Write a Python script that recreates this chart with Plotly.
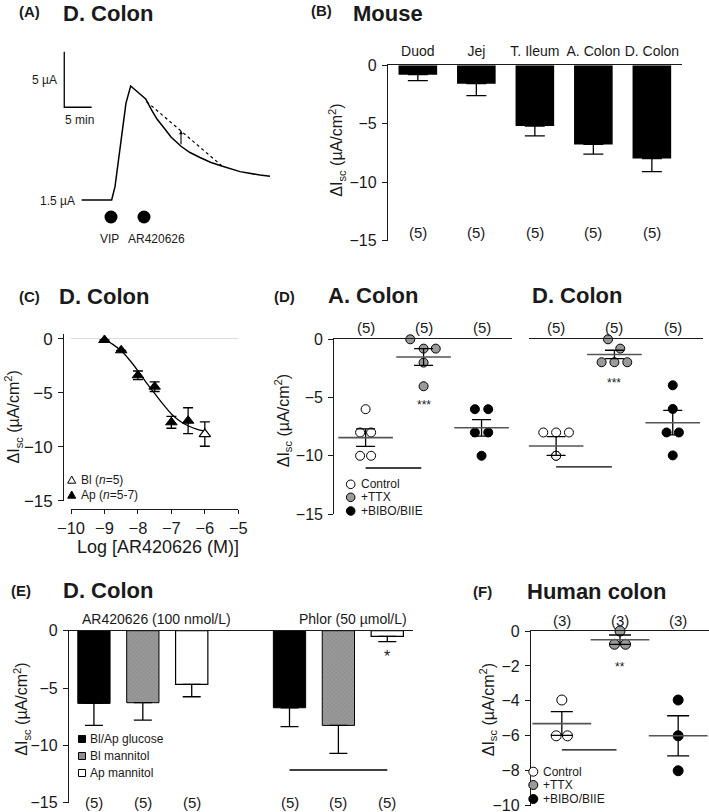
import plotly.graph_objects as go

W, H = 709, 812
FONT = "Liberation Sans, Arial, sans-serif"
LC = "#1a1a1a"
GRAY = "#9a9a9a"
MEANC = "#555555"


def px(x):
    return x / W


def py(y):
    return 1 - y / H


# ---------------- DATA ----------------
# (A) schematic Isc trace, D. colon (time in min, current in µA)
a_time = [0, 5.47, 6.08, 6.68, 7.30, 8.08, 8.94, 11.68, 12.77, 13.74, 14.89, 16.30, 18.12, 19.76, 21.59,
          23.59, 25.55, 28.89, 32.54, 34.36]
a_current = [1.5, 1.5, 2.70, 5.10, 7.53, 10.22, 11.75, 10.58, 9.59, 8.78, 8.06, 7.16, 6.33, 5.77, 5.32,
             4.87, 4.55, 4.05, 3.74, 3.63]
a_extrap_time = [11.86, 25.55]
a_extrap_current = [10.34, 4.58]
a_delta_time = 18.12
a_delta_current = [6.38, 7.75]
a_event_time = [5.35, 11.37]
a_event_current = [-0.03, -0.03]
a_event_labels = ["VIP", "AR420626"]
a_scale_origin = [-3.18, 9.84]
a_scale_min = 5
a_scale_uA = 5

# (B) Mouse regions
b_regions = ["Duod", "Jej", "T. Ileum", "A. Colon", "D. Colon"]
b_mean = [-0.80, -1.57, -5.20, -6.77, -7.97]
b_sem = [0.51, 1.03, 0.83, 0.83, 1.12]
b_n = [5, 5, 5, 5, 5]

# (C) concentration-response, D. colon
c_ap_log = [-9, -8.5, -8, -7.5, -7, -6.5]
c_ap_mean = [-0.09, -1.05, -3.37, -4.42, -7.73, -7.58]
c_ap_sem = [0, 0, 0.40, 0.45, 0.55, 1.20]
c_bl_log = [-6]
c_bl_mean = [-8.82]
c_bl_sem = [1.13]
c_fit_log = [-9, -8.75, -8.5, -8.25, -8, -7.75, -7.5, -7.25, -7, -6.75, -6.5, -6.25, -6]
c_fit_val = [-0.05, -0.5, -1.1, -1.95, -2.95, -4.05, -5.05, -6.05, -6.95, -7.6, -8.05, -8.35, -8.55]

# (D) TTX / BIBO-BIIE, mouse colon
d_groups = ["Control", "+TTX", "+BIBO/BIIE"]
d_n = [5, 5, 5]
ac_ctrl_x = [1, 0.905, 1.095, 0.905, 1.095]
ac_ctrl_y = [-6, -8, -8, -10, -10]
ac_ttx_x = [1.77, 2, 2.21, 2, 2]
ac_ttx_y = [0, -0.8, -0.8, -2.0, -4.03]
ac_bibo_x = [2.885, 3.115, 2.885, 3.115, 3]
ac_bibo_y = [-6, -6, -8, -8, -10]
ac_mean = [-8.44, -1.52, -7.60]
ac_sem = [0.75, 0.72, 0.71]
ac_sig = [-11.05, -11.05]

dc_ctrl_x = [0.78, 1, 1.22, 1, 1]
dc_ctrl_y = [-8, -8, -8, -10, -10]
dc_ttx_x = [1.89, 2.1, 1.78, 2, 2.22]
dc_ttx_y = [0, -0.8, -1.97, -1.97, -1.97]
dc_bibo_x = [3, 3, 2.894, 3.106, 3]
dc_bibo_y = [-3.95, -5.98, -8, -8, -9.97]
dc_mean = [-9.16, -1.30, -7.16]
dc_sem = [0.80, 0.36, 1.05]
dc_sig = [-10.96, -10.96]

# (E) glucose / mannitol, D. colon
e_treatments = ["AR420626 (100 nmol/L)", "Phlor (50 µmol/L)"]
e_series = ["Bl/Ap glucose", "Bl mannitol", "Ap mannitol"]
e_glucose = [-6.34, -6.72]
e_glucose_sem = [1.92, 1.65]
e_bl_mannitol = [-6.28, -8.26]
e_bl_mannitol_sem = [1.51, 2.44]
e_ap_mannitol = [-4.68, -0.49]
e_ap_mannitol_sem = [1.08, 0.47]
e_n = [5, 5, 5, 5, 5, 5]
e_sig = [-12.15, -12.15]

# (F) Human colon
f_ctrl_x = [1, 0.903, 1.097]
f_ctrl_y = [-3.95, -6.0, -6.0]
f_ttx_x = [2, 1.905, 2.095]
f_ttx_y = [0.0, -0.76, -0.76]
f_bibo_x = [3, 3, 3]
f_bibo_y = [-3.95, -6.0, -8.0]
f_mean = [-5.30, -0.50, -6.0]
f_sem = [0.68, 0.27, 1.15]
f_n = [3, 3, 3]
f_sig = [-6.81, -6.81]

# slot positions of E bars (layout)
e_slots = [[0, 4], [1, 5], [2, 6]]

fig = go.Figure()

# ---------------- (A) ----------------
fig.add_trace(go.Scatter(x=a_time, y=a_current, mode="lines", line=dict(color="black", width=1.5),
                         xaxis="x", yaxis="y", hoverinfo="skip"))
fig.add_trace(go.Scatter(x=a_extrap_time, y=a_extrap_current, mode="lines", line=dict(color="black", width=1.2, dash="3px,3px"),
                         xaxis="x", yaxis="y"))
sx, sy = a_scale_origin
fig.add_trace(go.Scatter(x=[sx, sx, sx + a_scale_min], y=[sy + a_scale_uA, sy, sy], mode="lines",
                         line=dict(color="black", width=1.3), xaxis="x", yaxis="y"))
fig.add_trace(go.Scatter(x=a_event_time, y=a_event_current, mode="markers", marker=dict(color="black", size=13),
                         xaxis="x", yaxis="y", cliponaxis=False))

# ---------------- (B) ----------------
fig.add_trace(go.Bar(x=list(range(len(b_regions))), y=b_mean, width=0.66, marker=dict(color="black", line=dict(width=0)),
                     error_y=dict(type="data", symmetric=False, array=[0] * len(b_sem), arrayminus=b_sem,
                                  width=10, thickness=1.3, color="black"),
                     xaxis="x2", yaxis="y2"))

# ---------------- (C) ----------------
fig.add_trace(go.Scatter(x=c_fit_log, y=c_fit_val, mode="lines", line=dict(color="black", width=1.3, shape="spline"),
                         xaxis="x3", yaxis="y3"))
fig.add_trace(go.Scatter(x=c_ap_log, y=c_ap_mean, mode="markers",
                         marker=dict(symbol="triangle-up", size=10, color="black", line=dict(color="black", width=1)),
                         error_y=dict(type="data", array=c_ap_sem, width=5, thickness=1.3, color="black"),
                         xaxis="x3", yaxis="y3", cliponaxis=False))
fig.add_trace(go.Scatter(x=c_bl_log, y=c_bl_mean, mode="markers",
                         marker=dict(symbol="triangle-up", size=10, color="white", line=dict(color="black", width=1.2)),
                         error_y=dict(type="data", array=c_bl_sem, width=5, thickness=1.3, color="black"),
                         xaxis="x3", yaxis="y3", cliponaxis=False))


# ---------------- (D) ----------------
def scatter_group(xs, ys, fill, size, xa, ya):
    fig.add_trace(go.Scatter(x=xs, y=ys, mode="markers",
                             marker=dict(symbol="circle", size=size, color=fill, line=dict(color="black", width=1)),
                             xaxis=xa, yaxis=ya, cliponaxis=False))


def mean_sem(means, sems, half, cap, xa, ya):
    fig.add_trace(go.Scatter(x=[1, 2, 3], y=means, mode="markers",
                             marker=dict(symbol="line-ew", size=half * 2, line=dict(color=MEANC, width=1.6)),
                             error_y=dict(type="data", array=sems, width=cap, thickness=1.3, color="black"),
                             xaxis=xa, yaxis=ya, cliponaxis=False))


def sig_line(x0, x1, yv, xa, ya):
    fig.add_trace(go.Scatter(x=[x0, x1], y=yv, mode="lines", line=dict(color="black", width=1.3),
                             xaxis=xa, yaxis=ya))


scatter_group(ac_ctrl_x, ac_ctrl_y, "white", 9, "x4", "y4")
scatter_group(ac_ttx_x, ac_ttx_y, GRAY, 9, "x4", "y4")
scatter_group(ac_bibo_x, ac_bibo_y, "black", 9, "x4", "y4")
mean_sem(ac_mean, ac_sem, 19.5, 9.5, "x4", "y4")
sig_line(1.0, 1.96, ac_sig, "x4", "y4")

scatter_group(dc_ctrl_x, dc_ctrl_y, "white", 9, "x5", "y5")
scatter_group(dc_ttx_x, dc_ttx_y, GRAY, 9, "x5", "y5")
scatter_group(dc_bibo_x, dc_bibo_y, "black", 9, "x5", "y5")
mean_sem(dc_mean, dc_sem, 19.5, 9.5, "x5", "y5")
sig_line(1.0, 1.955, dc_sig, "x5", "y5")

# ---------------- (E) ----------------
e_vals = [e_glucose, e_bl_mannitol, e_ap_mannitol]
e_sems = [e_glucose_sem, e_bl_mannitol_sem, e_ap_mannitol_sem]
e_markers = [
    dict(color="black", line=dict(color="black", width=1)),
    dict(color="#8f8f8f", line=dict(color="black", width=1),
         pattern=dict(shape="x", size=3, solidity=0.25, fgcolor="#6f6f6f", bgcolor="#999999")),
    dict(color="white", line=dict(color="black", width=1.2)),
]
for vals, sems, slots, mk in zip(e_vals, e_sems, e_slots, e_markers):
    fig.add_trace(go.Bar(x=slots, y=vals, width=0.66, marker=mk,
                         error_y=dict(type="data", symmetric=False, array=[0, 0], arrayminus=sems,
                                      width=9, thickness=1.3, color="black"),
                         xaxis="x6", yaxis="y6"))
sig_line(4, 6, e_sig, "x6", "y6")

# ---------------- (F) ----------------
scatter_group(f_ctrl_x, f_ctrl_y, "white", 10, "x7", "y7")
scatter_group(f_ttx_x, f_ttx_y, GRAY, 10, "x7", "y7")
scatter_group(f_bibo_x, f_bibo_y, "black", 10, "x7", "y7")
mean_sem(f_mean, f_sem, 21, 11, "x7", "y7")
sig_line(1.0, 1.94, f_sig, "x7", "y7")


# ---------------- AXES ----------------
def xdom(l, r):
    return [px(l), px(r)]


def ydom(t, b):
    return [py(b), py(t)]


TICKF = dict(family=FONT, size=16, color=LC)


def y_axis(top, bot, rng, anchor, tickvals, show=True, **kw):
    d = dict(domain=ydom(top, bot), range=rng, anchor=anchor, showgrid=False, zeroline=False, automargin=False,
             showline=show, linecolor=LC, linewidth=1.3, ticks="outside" if show else "",
             ticklen=5, tickwidth=1.2, tickcolor=LC, tickvals=tickvals, showticklabels=show,
             tickfont=TICKF, ticklabelstandoff=2, ticklabeloverflow="allow")
    d.update(kw)
    return d


def x_top(left, right, rng, anchor, **kw):
    d = dict(domain=xdom(left, right), range=rng, anchor=anchor, side="top", showgrid=False, zeroline=False,
             automargin=False, showline=True, linecolor=LC, linewidth=1.3, ticks="", showticklabels=False,
             ticklabeloverflow="allow")
    d.update(kw)
    return d


layout = dict(
    width=W, height=H, margin=dict(l=0, r=0, t=0, b=0, pad=0, autoexpand=False),
    paper_bgcolor="white", plot_bgcolor="white", showlegend=False, barmode="overlay",
    font=dict(family=FONT, color=LC),
    # A
    xaxis=dict(domain=xdom(10, 290), range=[-13.08, 38.01], visible=False, anchor="y", automargin=False),
    yaxis=dict(domain=ydom(40, 250), range=[-3.0, 15.89], visible=False, anchor="x", automargin=False),
    # B
    xaxis2=x_top(388, 681.7, [-0.51, 4.51], "y2", showticklabels=True, tickvals=list(range(5)), ticktext=b_regions,
                 tickfont=dict(family=FONT, size=14, color=LC), ticklabelstandoff=3),
    yaxis2=y_axis(65.3, 240.7, [-15, 0], "x2", [0, -5, -10, -15]),
    # C
    xaxis3=dict(domain=xdom(71, 238.3), range=[-10, -5], anchor="free", position=py(509.3), showgrid=False,
                zeroline=False, automargin=False, showline=True, linecolor=LC, linewidth=1.3, ticks="outside",
                ticklen=4, tickwidth=1.2, tickcolor=LC, tickvals=[-10, -9, -8, -7, -6, -5],
                tickfont=dict(family=FONT, size=16.5, color=LC), ticklabelstandoff=0, ticklabeloverflow="allow"),
    yaxis3=dict(domain=ydom(333.6, 500.7), range=[-15, 0.5], anchor="free", position=px(63.3), showgrid=False,
                zeroline=True, zerolinecolor="#dcdcdc", zerolinewidth=1, automargin=False, showline=True,
                linecolor=LC, linewidth=1.3, ticks="outside", ticklen=5, tickwidth=1.2, tickcolor=LC,
                tickvals=[0, -5, -10, -15], tickfont=dict(family=FONT, size=17, color=LC), ticklabelstandoff=2,
                ticklabeloverflow="allow"),
    # D
    xaxis4=x_top(334.3, 511.7, [0.46, 3.52], "y4"),
    yaxis4=y_axis(339.3, 514, [-15, 0], "x4", [0, -5, -10, -15]),
    xaxis5=x_top(529.3, 703.3, [0.54, 3.524], "y5"),
    yaxis5=y_axis(339.3, 514, [-15, 0], "x5", [0, -5, -10, -15], show=False),
    # E
    xaxis6=x_top(69, 412.7, [-0.51, 6.52], "y6"),
    yaxis6=y_axis(630.7, 802.7, [-15, 0], "x6", [0, -5, -10, -15]),
    # F
    xaxis7=x_top(531, 709, [0.47, 3.53], "y7"),
    yaxis7=y_axis(631, 805.7, [-10, 0], "x7", [0, -2, -4, -6, -8, -10]),
)

ann = []


def txt(x, y, text, size=12, xanchor="center", bold=False, angle=0, xref="paper", yref="paper"):
    if bold:
        text = "<b>" + text + "</b>"
    ann.append(dict(x=x, y=y, xref=xref, yref=yref, text=text, showarrow=False, xanchor=xanchor, yanchor="middle",
                    textangle=angle, font=dict(family=FONT, size=size, color=LC)))


# panel headings
txt(px(30), py(12), "(A)", 15, bold=True)
txt(px(61), py(13), "D. Colon", 22, "left", True)
txt(px(321.5), py(11), "(B)", 15, bold=True)
txt(px(350.5), py(13), "Mouse", 22, "left", True)
txt(px(29), py(296), "(C)", 15, bold=True)
txt(px(56.5), py(296), "D. Colon", 22, "left", True)
txt(px(284), py(296), "(D)", 15, bold=True)
txt(px(326), py(295), "A. Colon", 22, "left", True)
txt(px(529.5), py(295), "D. Colon", 22, "left", True)
txt(px(21), py(590), "(E)", 15, bold=True)
txt(px(61), py(590), "D. Colon", 22, "left", True)
txt(px(482.5), py(591), "(F)", 15, bold=True)
txt(px(525), py(591), "Human colon", 22, "left", True)

# y titles
YT = "ΔI<sub>sc</sub> (µA/cm<sup>2</sup>)"
txt(px(336.7), py(150), YT, 16, angle=-90)
txt(px(13), py(417.5), YT, 16, angle=-90)
txt(px(283.3), py(421), YT, 16, angle=-90)
txt(px(21.7), py(709), YT, 16, angle=-90)
txt(px(488.3), py(710), YT, 16, angle=-90)
txt(px(158.3), py(547), "Log [AR420626 (M)]", 18)

# (A) labels
txt(px(58.5), py(80), "5 µA", 12, "right")
txt(px(63), py(120), "5 min", 12, "left")
txt(px(76.5), py(201), "1.5 µA", 12, "right")
txt(px(109), py(239), a_event_labels[0], 12)
txt(px(156.7), py(239), a_event_labels[1], 12)
ann.append(dict(x=a_delta_time, y=a_delta_current[1], ax=a_delta_time, ay=a_delta_current[0], xref="x", yref="y",
                axref="x", ayref="y", showarrow=True, arrowhead=2, arrowsize=0.7, arrowwidth=1.1, arrowcolor="black",
                text=""))

# (B) n labels
for i, n in enumerate(b_n):
    txt(i, py(232.3), f"({n})", 15, xref="x2")

# (C) legend text
txt(px(78.5), py(480), "Bl (<i>n</i>=5)", 12, "left")
txt(px(78.5), py(495), "Ap (<i>n</i>=5-7)", 12, "left")

# (D) n labels and stars
for i, n in enumerate(d_n):
    txt(i + 1, py(327.7), f"({n})", 15, xref="x4")
    txt(i + 1, py(327.7), f"({n})", 15, xref="x5")
txt(2, py(405), "***", 12, xref="x4")
txt(2, py(383), "***", 12, xref="x5")
for k, lab in enumerate(d_groups):
    txt(px(358.5), py([484.3, 497.3, 511][k]), lab, 12, "left")

# (E)
txt(px(156), py(619.3), e_treatments[0], 14)
txt(px(352.7), py(619.3), e_treatments[1], 14)
for slot, n in zip(sorted(s for pair in e_slots for s in pair), e_n):
    txt(slot, py(802.7), f"({n})", 15, xref="x6")
txt(6, py(656), "*", 16, xref="x6")
for k, lab in enumerate(e_series):
    txt(px(88), py([739, 756, 773][k]), lab, 12, "left")

# (F)
for i, n in enumerate(f_n):
    txt(i + 1, py(620), f"({n})", 15, xref="x7")
txt(2, py(667), "**", 12, xref="x7")
for k, lab in enumerate(d_groups):
    txt(px(540.5), py([771.7, 785, 799][k]), lab, 12, "left")

layout["annotations"] = ann

# legend keys (shapes)
shapes = []


def circ(cx, cy, r, fill):
    shapes.append(dict(type="circle", xref="paper", yref="paper", x0=px(cx - r), x1=px(cx + r),
                       y0=py(cy + r), y1=py(cy - r), fillcolor=fill, line=dict(color="black", width=1)))


def square(cx, cy, r, fill):
    shapes.append(dict(type="rect", xref="paper", yref="paper", x0=px(cx - r), x1=px(cx + r),
                       y0=py(cy + r), y1=py(cy - r), fillcolor=fill, line=dict(color="black", width=1)))


def tri(cx, cy, r, fill):
    shapes.append(dict(type="path", xref="paper", yref="paper",
                       path=f"M {px(cx - r)},{py(cy + r * 0.8)} L {px(cx + r)},{py(cy + r * 0.8)} L {px(cx)},{py(cy - r)} Z",
                       fillcolor=fill, line=dict(color="black", width=1)))


tri(71.7, 480, 4, "white")
tri(71.7, 495, 4, "black")
for cy, f in zip([484.3, 497.3, 511], ["white", GRAY, "black"]):
    circ(350.7, cy, 4.3, f)
for cy, f in zip([739, 756, 773], ["black", "#8f8f8f", "white"]):
    square(82, cy, 3.5, f)
for cy, f in zip([771.7, 785, 799], ["white", GRAY, "black"]):
    circ(533.3, cy, 4.5, f)
layout["shapes"] = shapes

fig.update_layout(**layout)
fig.write_html("out.html", config={"displayModeBar": False},
               post_script="document.body.style.margin='0';document.body.style.padding='0';"
                           "document.body.style.overflow='hidden';")
